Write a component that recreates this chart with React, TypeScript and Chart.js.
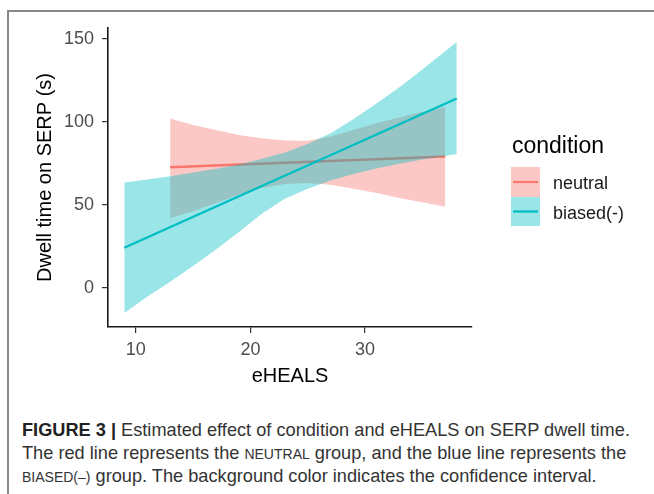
import React, { useEffect, useRef } from "react";
import { Chart, registerables } from "chart.js";

Chart.register(...registerables);

// ---- data ----
const X_TICKS = [10, 20, 30];
const Y_TICKS = [0, 50, 100, 150];
const X_TITLE = "eHEALS";
const Y_TITLE = "Dwell time on SERP (s)";
const LEGEND_TITLE = "condition";
const CONDITIONS = ["neutral", "biased(-)"];

const NEUTRAL_LINE_X = [13, 37];
const NEUTRAL_LINE_Y = [72.5, 79];
const BIASED_LINE_X = [9, 38];
const BIASED_LINE_Y = [24, 114];

const NEUTRAL_BAND_X = [13, 15, 17, 19, 21, 23, 25, 27, 29, 31, 33, 35, 37];
const NEUTRAL_UPPER = [102, 98, 95, 92, 90, 88.7, 88.5, 91, 95, 99, 102.5, 106, 108.8];
const NEUTRAL_LOWER = [42, 46, 51, 56, 60, 62.5, 63, 62, 59.5, 57, 54, 51.5, 48.7];

const BIASED_BAND_X = [9, 11, 13, 15, 17, 19, 21, 23, 25, 27, 29, 31, 33, 35, 38];
const BIASED_UPPER = [63.4, 65.2, 67.1, 69.3, 71.7, 74.2, 77.6, 81.5, 86.5, 93, 101.7, 111, 120.8, 131.5, 148];
const BIASED_LOWER = [-15.3, -5.5, 3.5, 13, 23, 33.5, 44.5, 53.5, 59.5, 64.5, 68.5, 71.8, 74.6, 77.2, 80.5];

const RED = "#F8766D";
const CYAN = "#00BFC4";
const RED_FILL = "rgba(248,118,109,0.4)";
const CYAN_FILL = "rgba(0,191,196,0.4)";
const FONT = '"Liberation Sans", Arial, sans-serif';

const pts = (xs: number[], ys: number[]) => xs.map((x, i) => ({ x, y: ys[i] }));

const legendPlugin = {
  id: "ggLegend",
  afterDraw(chart: any) {
    const ctx = chart.ctx as CanvasRenderingContext2D;
    ctx.save();
    ctx.textBaseline = "alphabetic";
    ctx.textAlign = "left";
    ctx.fillStyle = "#000";
    ctx.font = `23px ${FONT}`;
    ctx.fillText(LEGEND_TITLE, 512, 153);
    const keys = [
      { fill: RED_FILL, line: RED, y: 167, h: 30, base: 188.5 },
      { fill: CYAN_FILL, line: CYAN, y: 197, h: 29, base: 218.5 },
    ];
    keys.forEach((k, i) => {
      ctx.fillStyle = k.fill;
      ctx.fillRect(511, k.y, 29, k.h);
      ctx.strokeStyle = k.line;
      ctx.lineWidth = 2.2;
      ctx.beginPath();
      ctx.moveTo(513, k.y + k.h / 2);
      ctx.lineTo(538, k.y + k.h / 2);
      ctx.stroke();
      ctx.fillStyle = "#1a1a1a";
      ctx.font = `18px ${FONT}`;
      ctx.fillText(CONDITIONS[i], 553, k.base);
    });
    ctx.restore();
  },
};

function ChartCanvas() {
  const ref = useRef<HTMLCanvasElement | null>(null);
  useEffect(() => {
    if (!ref.current) return;
    const axisCommon = {
      type: "linear" as const,
      grid: { drawOnChartArea: false, drawTicks: true, tickLength: 6, color: "#333", lineWidth: 1.2 },
      border: { display: true, color: "#1a1a1a", width: 1.6 },
    };
    const chart = new Chart(ref.current, {
      type: "line",
      data: {
        datasets: [
          { label: CONDITIONS[1], data: pts(BIASED_LINE_X, BIASED_LINE_Y), borderColor: CYAN, borderWidth: 2.4, pointRadius: 0, fill: false, order: 1 },
          { label: "biased upper", data: pts(BIASED_BAND_X, BIASED_UPPER), borderColor: "rgba(0,0,0,0)", borderWidth: 0, pointRadius: 0, fill: "+1", backgroundColor: CYAN_FILL, order: 2 },
          { label: "biased lower", data: pts(BIASED_BAND_X, BIASED_LOWER), borderColor: "rgba(0,0,0,0)", borderWidth: 0, pointRadius: 0, fill: false, order: 2 },
          { label: CONDITIONS[0], data: pts(NEUTRAL_LINE_X, NEUTRAL_LINE_Y), borderColor: RED, borderWidth: 2.4, pointRadius: 0, fill: false, order: 3 },
          { label: "neutral upper", data: pts(NEUTRAL_BAND_X, NEUTRAL_UPPER), borderColor: "rgba(0,0,0,0)", borderWidth: 0, pointRadius: 0, fill: "+1", backgroundColor: RED_FILL, order: 4 },
          { label: "neutral lower", data: pts(NEUTRAL_BAND_X, NEUTRAL_LOWER), borderColor: "rgba(0,0,0,0)", borderWidth: 0, pointRadius: 0, fill: false, order: 4 },
        ],
      },
      options: {
        animation: false,
        responsive: false,
        maintainAspectRatio: false,
        layout: { padding: { left: 0, top: 28, right: 182, bottom: 0 } },
        plugins: { legend: { display: false }, tooltip: { enabled: false } },
        elements: { line: { tension: 0 } },
        scales: {
          x: {
            ...axisCommon,
            min: 7.58,
            max: 39.33,
            afterBuildTicks: (s: any) => { s.ticks = X_TICKS.map((v) => ({ value: v })); },
            afterFit: (s: any) => { s.height = 73; },
            ticks: { padding: 6, color: "#4D4D4D", font: { family: FONT, size: 18 } },
            title: { display: true, text: X_TITLE, color: "#000", font: { family: FONT, size: 20 }, padding: { top: 0, bottom: 12 } },
          },
          y: {
            ...axisCommon,
            min: -23.8,
            max: 156.5,
            afterBuildTicks: (s: any) => { s.ticks = Y_TICKS.map((v) => ({ value: v })); },
            afterFit: (s: any) => { s.width = 108; },
            ticks: { padding: 8, color: "#4D4D4D", font: { family: FONT, size: 18 } },
            title: { display: true, text: Y_TITLE, color: "#000", font: { family: FONT, size: 20 }, padding: { top: 33, bottom: 0 } },
          },
        },
      },
      plugins: [legendPlugin],
    } as any);
    return () => chart.destroy();
  }, []);
  return <canvas ref={ref} width={654} height={400} style={{ position: "absolute", left: 0, top: 0, width: 654, height: 400 }} />;
}

const capLine: React.CSSProperties = {
  position: "absolute",
  left: 22,
  whiteSpace: "nowrap",
  fontFamily: '"Liberation Sans", Arial, sans-serif',
  fontSize: 18.2,
  lineHeight: "22px",
  color: "#333",
};
const sc: React.CSSProperties = { fontSize: 14 };

export default function App() {
  return (
    <div style={{ position: "absolute", left: 0, top: 0, width: 654, height: 494, overflow: "hidden", background: "#fff" }}>
      <div style={{ position: "absolute", left: 7, top: 10, width: 800, height: 800, borderTop: "2px solid #888", borderLeft: "2px solid #888" }} />
      <ChartCanvas />
      <div style={{ ...capLine, top: 419 }}>
        <b style={{ color: "#222" }}>FIGURE 3 |</b> Estimated effect of condition and eHEALS on SERP dwell time.
      </div>
      <div style={{ ...capLine, top: 442 }}>
        The red line represents the <span style={sc}>NEUTRAL</span> group, and the blue line represents the
      </div>
      <div style={{ ...capLine, top: 465 }}>
        <span style={sc}>BIASED(–)</span> group. The background color indicates the confidence interval.
      </div>
    </div>
  );
}
